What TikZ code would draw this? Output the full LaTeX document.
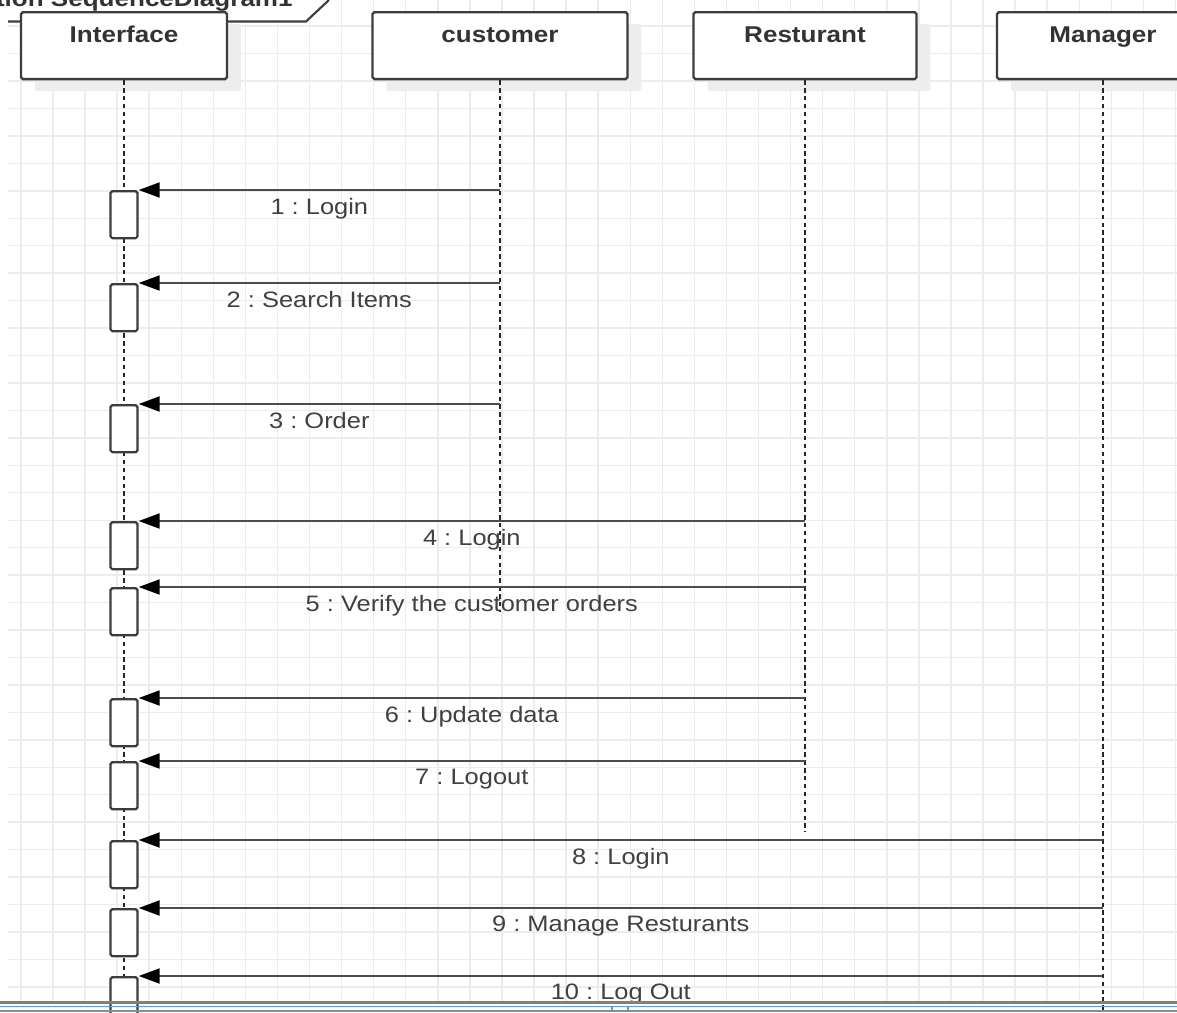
\documentclass[tikz,border=0pt]{standalone}
\usepackage{fontspec}
\setmainfont[FakeStretch=1.14]{Liberation Sans}
\usepackage{tikz}
\usetikzlibrary{arrows.meta,calc,shadows}
\frenchspacing

\definecolor{gridgray}{HTML}{ECECEC}
\definecolor{linegray}{HTML}{3C3C3C}
\definecolor{pageblue}{HTML}{5B9BE0}

\tikzset{
    gridline/.style={draw=gridgray, line width=0.8pt},
    tabline/.style={draw=linegray, line width=1.2pt},
    lifehead/.style={draw=linegray, line width=1.3pt, fill=white, rounded corners=1pt,
        inner sep=0pt, text height=0.6cm, text depth=0.74cm, anchor=north,
        font=\bfseries\fontsize{13pt}{15pt}\selectfont, text=black!80,
        drop shadow={shadow xshift=0.28cm, shadow yshift=-0.24cm, fill=black!7, opacity=1}},
    lifeline/.style={draw=black!85, line width=1.3pt, dash pattern=on 2.5pt off 2pt},
    actbox/.style={draw=linegray, line width=1.3pt, fill=white, rounded corners=1pt,
        minimum width=0.54cm, minimum height=0.94cm, inner sep=0pt, anchor=north},
    msg/.style={draw=black!70, line width=1.3pt, -{Triangle[length=12pt,width=8.5pt,color=black]}},
    msgtext/.style={below=3pt, inner sep=1pt, text=black!75, font=\fontsize{12.7pt}{15pt}\selectfont},
}

\begin{document}
\begin{tikzpicture}[x=0.02cm, y=-0.02cm]
    \fill[white] (0,0) rectangle (1177,1012);
    \useasboundingbox (0,0) rectangle (1177,1012);
    %% grid
    \foreach \k in {0,...,36}
    {
    \draw[gridline] ({20.9+\k*32.07},0) -- ({20.9+\k*32.07},1002);
    }
    \foreach \k in {-1,...,35}
    {
    \draw[gridline] (8,{26.1+\k*27.45}) -- (1177,{26.1+\k*27.45});
    }
    %% frame tab (cut by the top edge)
    \fill[white] (8,-5) -- (8,21.5) -- (306,21.5) -- (329,-5) -- cycle;
    \node[anchor=base east, inner sep=0pt, text=black!80,
        font=\bfseries\fontsize{13pt}{15pt}\selectfont] (framename) at (293,6) {Interaction SequenceDiagram1};
    \draw[tabline] (8,21.5) -- (306,21.5) -- (329,0);
    %% lifeline heads
    \node[lifehead, minimum width=4.12cm] (ifc) at (124,11) {Interface};
    \node[lifehead, minimum width=5.1cm] (cust) at (500,11) {customer};
    \node[lifehead, minimum width=4.46cm] (rest) at (805,11) {Resturant};
    \node[lifehead, minimum width=4.24cm] (mgr) at (1103,11) {Manager};
    %% lifelines
    \coordinate (ifc-end) at (124,1015);
    \coordinate (cust-end) at (500,612);
    \coordinate (rest-end) at (805,832);
    \coordinate (mgr-end) at (1103,1015);
    \foreach \L in {ifc,cust,rest,mgr}
    {
    \draw[lifeline] (\L.south) -- (\L-end);
    }
    %% messages
    \foreach \n/\y/\src/\txt in {1/190/cust/1 : Login, 2/283/cust/2 : Search Items, 3/404/cust/3 : Order,
        4/521/rest/4 : Login, 5/587/rest/5 : Verify the customer orders, 6/698/rest/6 : Update data,
        7/761/rest/7 : Logout, 8/840/mgr/8 : Login, 9/908/mgr/9 : Manage Resturants, 10/976/mgr/10 : Log Out}
    {
    \node[actbox] (act\n) at (124,\y) {};
    \draw[msg] (\src |- act\n.north east) -- node[msgtext] {\txt} (act\n.north east);
    }
    %% page edge
    \draw[black!50, line width=1.3pt] (0,1002.5) -- (1177,1002.5);
    \draw[pageblue, line width=1.1pt] (0,1006.5) -- (1177,1006.5);
    \draw[pageblue, line width=0.6pt] (612,1006.5) -- (612,1012) (628,1006.5) -- (628,1012);
    \draw[black!45, line width=0.6pt] (0,1011) -- (1177,1011);
\end{tikzpicture}
\end{document}
